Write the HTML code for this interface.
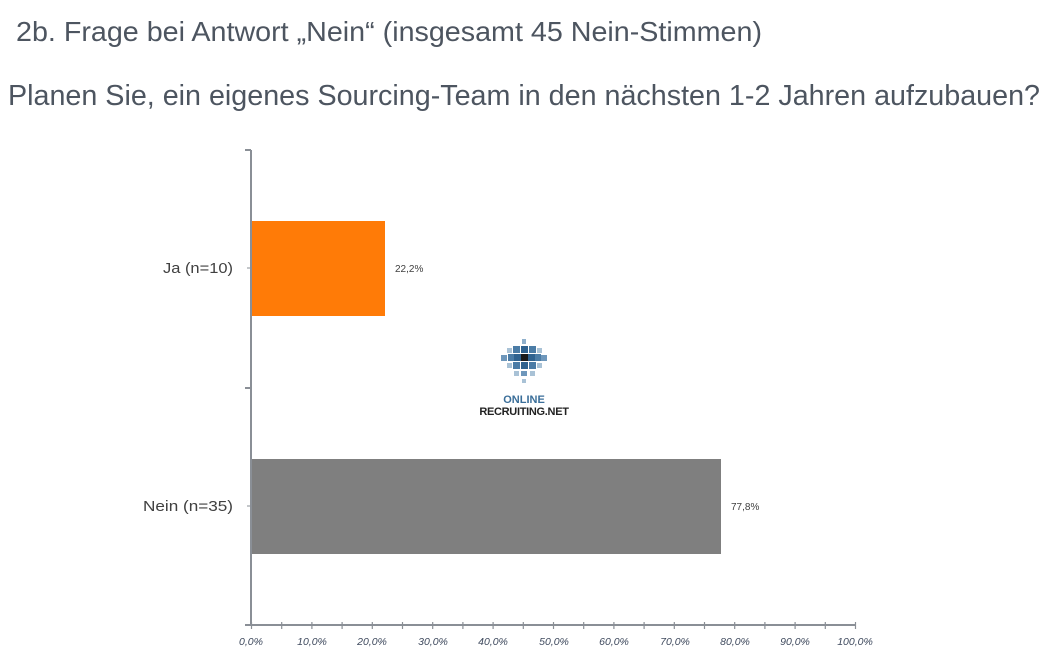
<!DOCTYPE html>
<html><head><meta charset="utf-8"><style>
body{margin:0;width:1058px;height:657px;background:#fff;overflow:hidden;font-family:"Liberation Sans",sans-serif}
</style></head><body>
<svg width="1058" height="657" xmlns="http://www.w3.org/2000/svg" font-family="Liberation Sans, sans-serif">
<text x="16" y="41" font-size="28" fill="#4d5560" textLength="746" lengthAdjust="spacingAndGlyphs">2b. Frage bei Antwort „Nein“ (insgesamt 45 Nein-Stimmen)</text>
<text x="8" y="105" font-size="28.5" fill="#4d5560" textLength="1032" lengthAdjust="spacingAndGlyphs">Planen Sie, ein eigenes Sourcing-Team in den nächsten 1-2 Jahren aufzubauen?</text>
<rect x="251" y="221" width="134" height="95" fill="#ff7b07"/>
<rect x="251" y="459" width="470" height="95" fill="#7f7f7f"/>
<g stroke="#8a8f96" stroke-width="2">
<line x1="251" y1="150" x2="251" y2="626"/>
<line x1="245" y1="625" x2="856" y2="625"/>
<line x1="245" y1="150" x2="251" y2="150"/>
<line x1="245" y1="388" x2="251" y2="388"/>
<line x1="247" y1="268" x2="251" y2="268" stroke-width="1"/>
<line x1="247" y1="506" x2="251" y2="506" stroke-width="1"/>
</g>
<g stroke="#8a8f96" stroke-width="1.2">
<line x1="251.5" y1="622" x2="251.5" y2="629"/><line x1="281.7" y1="622" x2="281.7" y2="629"/><line x1="311.9" y1="622" x2="311.9" y2="629"/><line x1="342.1" y1="622" x2="342.1" y2="629"/><line x1="372.3" y1="622" x2="372.3" y2="629"/><line x1="402.5" y1="622" x2="402.5" y2="629"/><line x1="432.7" y1="622" x2="432.7" y2="629"/><line x1="462.9" y1="622" x2="462.9" y2="629"/><line x1="493.1" y1="622" x2="493.1" y2="629"/><line x1="523.3" y1="622" x2="523.3" y2="629"/><line x1="553.5" y1="622" x2="553.5" y2="629"/><line x1="583.7" y1="622" x2="583.7" y2="629"/><line x1="613.9" y1="622" x2="613.9" y2="629"/><line x1="644.1" y1="622" x2="644.1" y2="629"/><line x1="674.3" y1="622" x2="674.3" y2="629"/><line x1="704.5" y1="622" x2="704.5" y2="629"/><line x1="734.7" y1="622" x2="734.7" y2="629"/><line x1="764.9" y1="622" x2="764.9" y2="629"/><line x1="795.1" y1="622" x2="795.1" y2="629"/><line x1="825.3" y1="622" x2="825.3" y2="629"/><line x1="855.5" y1="622" x2="855.5" y2="629"/>
</g>
<g font-size="10.5" font-style="italic" fill="#3f4a5e" text-anchor="middle">
<text x="251" y="645">0,0%</text><text x="312" y="645">10,0%</text><text x="372" y="645">20,0%</text><text x="433" y="645">30,0%</text><text x="493" y="645">40,0%</text><text x="554" y="645">50,0%</text><text x="614" y="645">60,0%</text><text x="675" y="645">70,0%</text><text x="735" y="645">80,0%</text><text x="795" y="645">90,0%</text><text x="855" y="645">100,0%</text>
</g>
<g font-size="14.5" fill="#404040">
<text x="163" y="273" textLength="70" lengthAdjust="spacingAndGlyphs">Ja (n=10)</text>
<text x="143" y="511" textLength="90" lengthAdjust="spacingAndGlyphs">Nein (n=35)</text>
</g>
<g font-size="10" fill="#404040">
<text x="395" y="272">22,2%</text><text x="731" y="510">77,8%</text>
</g>
<g>
<rect x="522" y="339" width="4" height="5" fill="#8fb0cc"/>
<rect x="507" y="348" width="5" height="5" fill="#a9c2d6"/>
<rect x="513" y="346" width="7" height="7" fill="#4b7ca6"/>
<rect x="521" y="346" width="7" height="7" fill="#2f628f"/>
<rect x="529" y="346" width="7" height="7" fill="#4b7ca6"/>
<rect x="537" y="348" width="5" height="5" fill="#a9c2d6"/>
<rect x="501" y="355" width="6" height="6" fill="#6e97bb"/>
<rect x="508" y="354" width="6" height="7" fill="#4b7ca6"/>
<rect x="514" y="354" width="7" height="7" fill="#2f628f"/>
<rect x="521" y="354" width="7" height="7" fill="#1a1a1a"/>
<rect x="528" y="354" width="7" height="7" fill="#2f628f"/>
<rect x="535" y="354" width="6" height="7" fill="#4b7ca6"/>
<rect x="541" y="355" width="6" height="6" fill="#6e97bb"/>
<rect x="507" y="363" width="5" height="5" fill="#a9c2d6"/>
<rect x="513" y="362" width="7" height="7" fill="#4b7ca6"/>
<rect x="521" y="362" width="7" height="7" fill="#2f628f"/>
<rect x="529" y="362" width="7" height="7" fill="#4b7ca6"/>
<rect x="537" y="363" width="5" height="5" fill="#a9c2d6"/>
<rect x="514" y="371" width="5" height="5" fill="#a9c2d6"/>
<rect x="521" y="371" width="6" height="5" fill="#6e97bb"/>
<rect x="530" y="371" width="5" height="5" fill="#a9c2d6"/>
<rect x="522" y="379" width="4" height="4" fill="#a9c2d6"/>
</g>
<text x="524" y="403" font-size="11" font-weight="bold" fill="#3a6e99" text-anchor="middle">ONLINE</text>
<text x="524" y="415" font-size="11" font-weight="bold" fill="#222" text-anchor="middle" letter-spacing="-0.3">RECRUITING.NET</text>
</svg>
</body></html>
